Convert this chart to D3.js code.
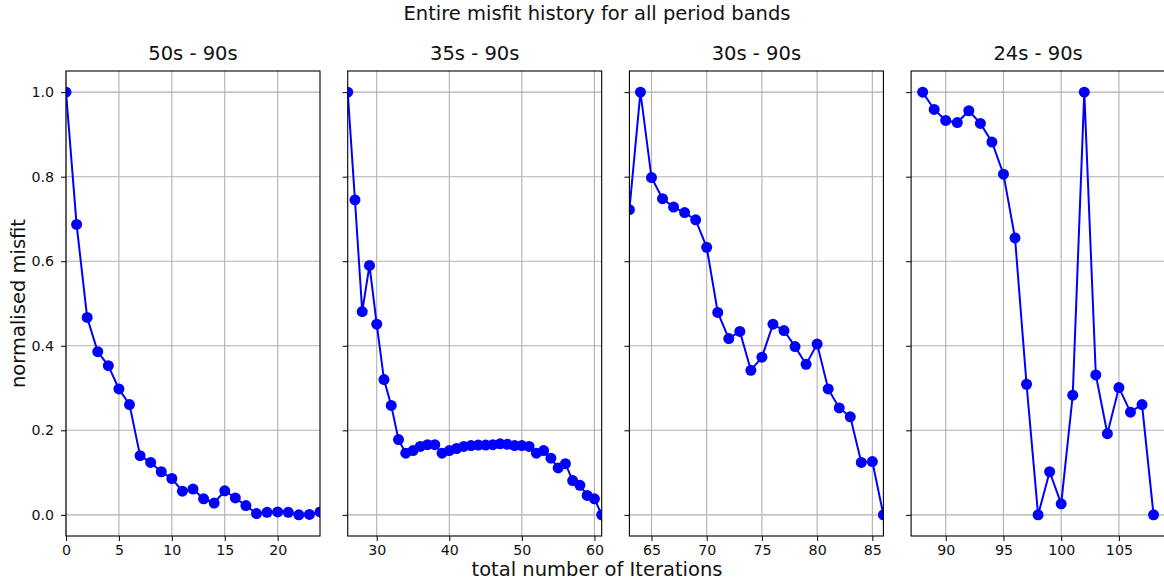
<!DOCTYPE html>
<html>
<head>
<meta charset="utf-8">
<script src="https://cdn.jsdelivr.net/npm/d3@7"></script>
<style>
  html, body { margin: 0; padding: 0; background: #fff; }
  svg { display: block; font-family: "DejaVu Sans", sans-serif; }
</style>
</head>
<body>
<svg id="chart" width="1164" height="581"></svg>
<script>
// Period band titles
const bandTitles = ["50s - 90s", "35s - 90s", "30s - 90s", "24s - 90s"];

// First iteration number of each band
const bandStarts = [0, 26, 63, 88];

// x-axis limits of each band
const bandDomains = [[0, 24], [26, 61], [63, 86], [87, 109]];

// Normalised misfit per iteration, one array per band
const misfit50 = [1.0, 0.687, 0.467, 0.386, 0.353, 0.298, 0.261, 0.140, 0.124, 0.102,
  0.086, 0.056, 0.061, 0.038, 0.028, 0.057, 0.040, 0.022, 0.003, 0.006,
  0.007, 0.006, 0.0, 0.001, 0.007];
const misfit35 = [1.0, 0.745, 0.481, 0.590, 0.451, 0.320, 0.259, 0.178, 0.146, 0.152,
  0.162, 0.166, 0.166, 0.146, 0.152, 0.157, 0.162, 0.164, 0.165, 0.165,
  0.166, 0.168, 0.167, 0.164, 0.164, 0.162, 0.146, 0.152, 0.134, 0.111,
  0.121, 0.081, 0.070, 0.046, 0.038, 0.0];
const misfit30 = [0.722, 1.0, 0.798, 0.748, 0.728, 0.715, 0.698, 0.633, 0.479, 0.417,
  0.434, 0.342, 0.373, 0.451, 0.436, 0.398, 0.356, 0.404, 0.298, 0.253,
  0.232, 0.124, 0.126, 0.0];
const misfit24 = [1.0, 0.959, 0.933, 0.928, 0.956, 0.926, 0.882, 0.806, 0.655, 0.309,
  0.0, 0.102, 0.026, 0.283, 1.0, 0.331, 0.192, 0.301, 0.243, 0.261, 0.0];
const bandValues = [misfit50, misfit35, misfit30, misfit24];

// Tick labels
const xTicks = [[0, 5, 10, 15, 20], [30, 40, 50, 60], [65, 70, 75, 80, 85], [90, 95, 100, 105]];
const yTicks = [0.0, 0.2, 0.4, 0.6, 0.8, 1.0];

const svg = d3.select("#chart");

const panelLeft = 66, panelWidth = 254, panelStep = 281.7;
const plotTop = 71, plotBottom = 536;
const labelSize = 19.5, tickSize = 14.2, ink = "#111";

const y = d3.scaleLinear().domain([-0.05, 1.05]).range([plotBottom, plotTop]);

// Figure title
svg.append("text")
  .attr("x", 597).attr("y", 20)
  .attr("text-anchor", "middle")
  .attr("font-size", labelSize)
  .attr("fill", ink)
  .text("Entire misfit history for all period bands");

bandTitles.forEach((title, i) => {
  const x0 = panelLeft + i * panelStep;
  const x = d3.scaleLinear().domain(bandDomains[i]).range([x0, x0 + panelWidth]);
  const g = svg.append("g");

  const clipId = "clip" + i;
  svg.append("clipPath").attr("id", clipId)
    .append("rect").attr("x", x0).attr("y", plotTop)
    .attr("width", panelWidth).attr("height", plotBottom - plotTop);

  // grid
  const grid = g.append("g").attr("stroke", "#b0b0b0").attr("stroke-width", 1.1);
  xTicks[i].forEach(t => {
    grid.append("line").attr("x1", x(t)).attr("x2", x(t)).attr("y1", plotTop).attr("y2", plotBottom);
  });
  yTicks.forEach(t => {
    grid.append("line").attr("x1", x0).attr("x2", x0 + panelWidth).attr("y1", y(t)).attr("y2", y(t));
  });

  // series
  const pts = bandValues[i].map((v, k) => ({ it: bandStarts[i] + k, v }));
  const plot = g.append("g").attr("clip-path", `url(#${clipId})`);
  plot.append("path")
    .datum(pts)
    .attr("fill", "none")
    .attr("stroke", "#0000ff")
    .attr("stroke-width", 2)
    .attr("d", d3.line().x(d => x(d.it)).y(d => y(d.v)));
  plot.selectAll("circle").data(pts).join("circle")
    .attr("cx", d => x(d.it)).attr("cy", d => y(d.v))
    .attr("r", 5.5).attr("fill", "#0000ff");

  // axes
  const xAxis = d3.axisBottom(x).tickValues(xTicks[i]).tickSize(5).tickPadding(4).tickFormat(d3.format("d"));
  const ax = g.append("g").attr("transform", `translate(0,${plotBottom})`).call(xAxis);
  ax.select(".domain").remove();
  ax.selectAll("text").attr("font-size", tickSize).attr("fill", ink).attr("font-family", "DejaVu Sans");
  ax.selectAll("line").attr("stroke", "#000");

  const yAxis = d3.axisLeft(y).tickValues(yTicks).tickSize(5).tickPadding(7)
    .tickFormat(i === 0 ? d3.format(".1f") : () => "");
  const ay = g.append("g").attr("transform", `translate(${x0},0)`).call(yAxis);
  ay.select(".domain").remove();
  ay.selectAll("text").attr("font-size", tickSize).attr("fill", ink).attr("font-family", "DejaVu Sans");
  ay.selectAll("line").attr("stroke", "#000");

  // frame
  g.append("rect").attr("x", x0).attr("y", plotTop)
    .attr("width", panelWidth).attr("height", plotBottom - plotTop)
    .attr("fill", "none").attr("stroke", "#000").attr("stroke-width", 1.1);

  // band title
  g.append("text")
    .attr("x", x0 + panelWidth / 2).attr("y", 60)
    .attr("text-anchor", "middle")
    .attr("font-size", labelSize)
    .attr("fill", ink)
    .text(title);
});

// axis labels
svg.append("text")
  .attr("x", 597).attr("y", 576)
  .attr("text-anchor", "middle")
  .attr("font-size", labelSize)
  .attr("fill", ink)
  .text("total number of Iterations");

svg.append("text")
  .attr("transform", `translate(25,${(plotTop + plotBottom) / 2}) rotate(-90)`)
  .attr("text-anchor", "middle")
  .attr("font-size", labelSize)
  .attr("fill", ink)
  .text("normalised misfit");
</script>
</body>
</html>
